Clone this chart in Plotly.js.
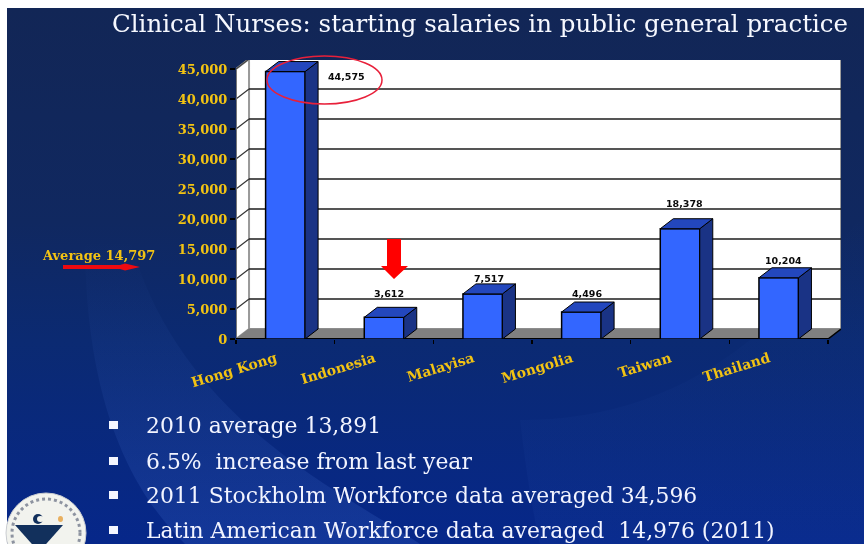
<!DOCTYPE html>
<html><head><meta charset="utf-8">
<script src="https://cdn.plot.ly/plotly-3.0.1.min.js"></script>
<style>
html,body{margin:0;padding:0;background:#fff;width:864px;height:544px;overflow:hidden}
#bg{position:absolute;left:0;top:0}
#chart{position:absolute;left:0;top:0;width:864px;height:544px;filter:blur(0.45px)}
</style></head><body>
<svg id="bg" width="864" height="544" xmlns="http://www.w3.org/2000/svg">
<defs>
<linearGradient id="g" x1="0" y1="0" x2="0" y2="1">
<stop offset="0" stop-color="#122656"/><stop offset="0.4" stop-color="#102860"/>
<stop offset="0.62" stop-color="#0b2a72"/><stop offset="1" stop-color="#06278a"/>
</linearGradient>
<linearGradient id="f" x1="0" y1="0" x2="0" y2="1">
<stop offset="0" stop-color="#4a78d8" stop-opacity="0"/><stop offset="0.4" stop-color="#4a78d8" stop-opacity="0.08"/><stop offset="1" stop-color="#4a78d8" stop-opacity="0.2"/>
</linearGradient>
<linearGradient id="h" x1="0" y1="0" x2="0" y2="1">
<stop offset="0" stop-color="#3a68c8" stop-opacity="0"/><stop offset="1" stop-color="#3a68c8" stop-opacity="0.08"/>
</linearGradient>
</defs>
<rect x="7" y="8" width="857" height="536" fill="url(#g)"/>
<path d="M85 240 C85 400 130 490 185 544 L420 544 C340 490 180 420 130 240 Z" fill="url(#f)"/>
<path d="M520 420 C640 420 760 370 864 210 L864 544 L540 544 C530 500 525 460 520 420 Z" fill="url(#h)"/>
</svg>
<div id="chart"></div>
<script>
const categories = ['Hong Kong','Indonesia','Malayisa','Mongolia','Taiwan','Thailand'];
const salaries = [44575, 3612, 7517, 4496, 18378, 10204];
const salaryLabels = ['44,575','3,612','7,517','4,496','18,378','10,204'];
const labelShiftX = [61, 5, 6, 6, 4, 5];
const labelShiftY = [-5, 24, 15, 19, 25, 17];
const yTicks = [0,5000,10000,15000,20000,25000,30000,35000,40000,45000];
const bullets = ['2010 average 13,891','6.5%  increase from last year','2011 Stockholm Workforce data averaged 34,596','Latin American Workforce data averaged  14,976 (2011)'];
const bulletRows = [425, 461, 495, 530];
const titleText = 'Clinical Nurses: starting salaries in public general practice';
const averageText = 'Average 14,797';

const W=864,H=544,L=236,R=841,T=60,B=339;
const px=x=>(x-L)/(R-L), py=y=>(B-y)/(B-T);
const depthX=0.132, depthY=1667, half=0.2;
const xs=categories.map((_,i)=>i);
const x0=-0.5,x1=5.5,topV=45000;
const SERIF='"DejaVu Serif","Liberation Serif",serif';
const GOLD='#f2c313';

const shapes=[];
const line=(a,b,c,d,color,w,layer)=>shapes.push({type:'line',xref:'x',yref:'y',x0:a,y0:b,x1:c,y1:d,line:{color,width:w},layer:layer||'below'});
const poly=(pts,fill,color,w)=>shapes.push({type:'path',xref:'x',yref:'y',path:'M'+pts.map(p=>p.join(',')).join('L')+'Z',fillcolor:fill,line:{color,width:w},layer:'below'});
poly([[x0+depthX,depthY],[x1+depthX,depthY],[x1+depthX,topV+depthY],[x0+depthX,topV+depthY]],'#ffffff','#9a9a9a',2);
poly([[x0,0],[x0+depthX,depthY],[x0+depthX,topV+depthY],[x0,topV]],'#ffffff','#9a9a9a',2);
yTicks.slice(1,-1).forEach(v=>{
  line(x0+depthX,v+depthY,x1+depthX,v+depthY,'#1c1c1c',1.6);
  line(x0,v,x0+depthX,v+depthY,'#333333',1.2);
});
line(x0,topV,x0+depthX,topV+depthY,'#444444',1.2);
poly([[x0,0],[x0+depthX,depthY],[x1+depthX,depthY],[x1,0]],'#808080','#808080',1);
line(x0,0,x0,topV,'#777777',2);
line(x0,0,x1,0,'#000000',2);
line(x1,0,x1+depthX,depthY,'#000000',1.5);

const pshape=o=>shapes.push(Object.assign({xref:'paper',yref:'paper',layer:'above'},o));
const pathOf=pts=>'M'+pts.map(p=>px(p[0])+','+py(p[1])).join('L')+'Z';
pshape({type:'circle',x0:px(267),x1:px(382),y0:py(104),y1:py(56),line:{color:'#e8203a',width:1.5},fillcolor:'rgba(0,0,0,0)'});
pshape({type:'path',path:pathOf([[387,239],[401,239],[401,266],[408,266],[394,279],[381,266],[387,266]]),fillcolor:'#ff0000',line:{width:0}});
pshape({type:'path',path:pathOf([[63,265],[120,265],[125,263.5],[140,267],[125,270.5],[120,269],[63,269]]),fillcolor:'#ee0a10',line:{width:0}});
bulletRows.forEach(y=>pshape({type:'rect',x0:px(109),x1:px(118),y0:py(y+4),y1:py(y-4),fillcolor:'#f4f6ff',line:{width:0}}));
pshape({type:'circle',x0:px(6),x1:px(86),y0:py(573),y1:py(493),fillcolor:'#f2f3ee',line:{color:'#c9ccd0',width:1}});
pshape({type:'circle',x0:px(12),x1:px(80),y0:py(567),y1:py(499),fillcolor:'rgba(0,0,0,0)',line:{color:'#8d93a0',width:3,dash:'dot'}});
pshape({type:'path',path:pathOf([[15,525],[63,525],[39,552]]),fillcolor:'#12305c',line:{width:0}});
pshape({type:'circle',x0:px(33),x1:px(43),y0:py(524),y1:py(514),fillcolor:'#12305c',line:{width:0}});
pshape({type:'circle',x0:px(37),x1:px(44),y0:py(522),y1:py(516),fillcolor:'#f2f3ee',line:{width:0}});
pshape({type:'circle',x0:px(58),x1:px(63),y0:py(522),y1:py(516),fillcolor:'#e8b060',line:{width:0}});

const sideX=[],sideY=[],topX=[],topY=[];
xs.forEach((x,i)=>{const v=salaries[i],r=x+half,l=x-half;
  sideX.push(r,r+depthX,r+depthX,r,r,null); sideY.push(0,depthY,v+depthY,v,0,null);
  topX.push(l,r,r+depthX,l+depthX,l,null); topY.push(v,v,v+depthY,v+depthY,v,null);
});
const traces=[
 {type:'bar',x:xs,y:salaries,width:half*2,marker:{color:'#3366ff',line:{color:'#000000',width:1.5}},hoverinfo:'skip',showlegend:false},
 {type:'scatter',mode:'lines',x:sideX,y:sideY,fill:'toself',fillcolor:'#1a3385',line:{color:'#000000',width:1},hoverinfo:'skip',showlegend:false,cliponaxis:false},
 {type:'scatter',mode:'lines',x:topX,y:topY,fill:'toself',fillcolor:'#2347bd',line:{color:'#000000',width:1},hoverinfo:'skip',showlegend:false,cliponaxis:false}
];

const annotations=[];
const pnote=(text,x,y,size,color,anchor,bold)=>annotations.push({xref:'paper',yref:'paper',x:px(x),y:py(y),text:bold?'<b>'+text+'</b>':text,showarrow:false,xanchor:anchor||'left',yanchor:'middle',font:{family:SERIF,size,color}});
pnote(titleText,110,24,24.5,'#f6f8ff');
pnote(averageText,40,255,13,GOLD,'left',true);
bullets.forEach((t,i)=>pnote(t,144,bulletRows[i],21.9,'#f2f4ff'));
xs.forEach((x,i)=>annotations.push({xref:'x',yref:'y',x,y:salaries[i],xshift:labelShiftX[i],yshift:labelShiftY[i],text:'<b>'+salaryLabels[i]+'</b>',showarrow:false,xanchor:'center',yanchor:'middle',font:{family:'"DejaVu Sans",Verdana,sans-serif',size:9.5,color:'#0a0a0a'}}));

const layout={width:W,height:H,margin:{l:L,r:W-R,t:T,b:H-B,pad:0},paper_bgcolor:'rgba(0,0,0,0)',plot_bgcolor:'rgba(0,0,0,0)',
 showlegend:false,shapes,annotations,
 xaxis:{type:'linear',range:[x0,x0+(R-L)/98.67],tickmode:'array',tickvals:xs.map(x=>x-0.097),ticktext:categories,tickangle:-17,ticks:'',showgrid:false,zeroline:false,showline:false,
   tickfont:{family:SERIF,size:14,color:GOLD,weight:700},ticklabelstandoff:8,
   minor:{tickmode:'array',tickvals:[-0.5,0.5,1.5,2.5,3.5,4.5,5.5],ticks:'outside',ticklen:4,tickwidth:1.5,tickcolor:'#000000',showgrid:false}},
 yaxis:{range:[0,(B-T)/0.006],tickmode:'array',tickvals:yTicks,tickformat:',',ticks:'outside',ticklen:5,tickwidth:1.5,tickcolor:'#000000',showgrid:false,zeroline:false,showline:false,
   tickfont:{family:SERIF,size:13,color:GOLD,weight:700}}
};
Plotly.newPlot('chart',traces,layout,{displayModeBar:false,staticPlot:true});
</script></body></html>
